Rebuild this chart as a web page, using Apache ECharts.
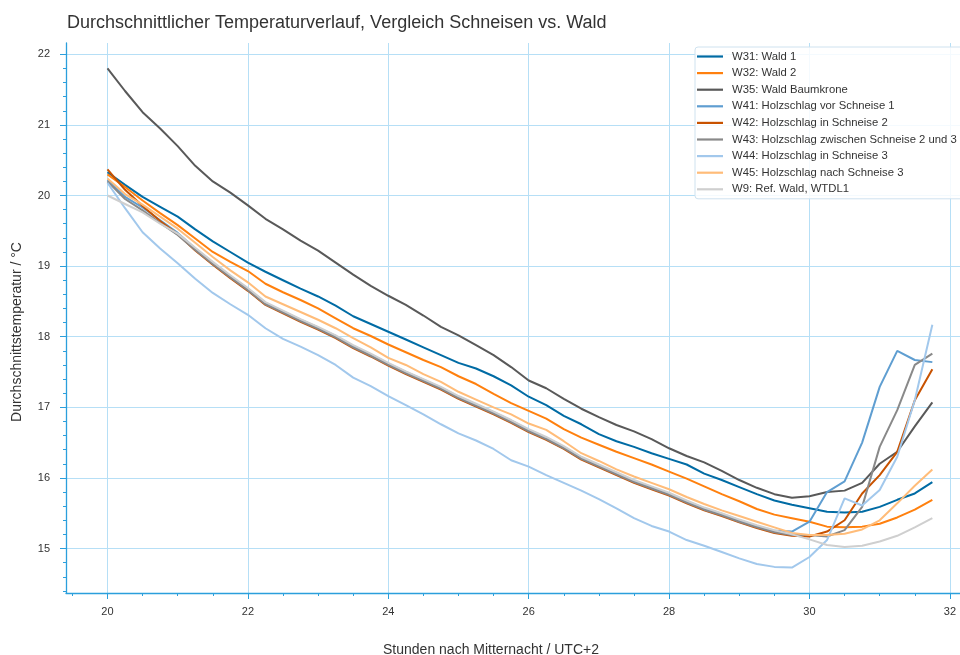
<!DOCTYPE html>
<html>
<head>
<meta charset="utf-8">
<script src="https://cdn.jsdelivr.net/npm/echarts@6/dist/echarts.min.js"></script>
<style>
html,body{margin:0;padding:0;background:#fff;}
#chart{width:960px;height:655px;}
</style>
</head>
<body>
<div id="chart"></div>
<script>
// ---- data ----
const hours = [20,20.25,20.5,20.75,21,21.25,21.5,21.75,22,22.25,22.5,22.75,23,23.25,23.5,23.75,24,24.25,24.5,24.75,25,25.25,25.5,25.75,26,26.25,26.5,26.75,27,27.25,27.5,27.75,28,28.25,28.5,28.75,29,29.25,29.5,29.75,30,30.25,30.5,30.75,31,31.25,31.5,31.75];

const seriesNames = ["W31: Wald 1","W32: Wald 2","W35: Wald Baumkrone","W41: Holzschlag vor Schneise 1","W42: Holzschlag in Schneise 2","W43: Holzschlag zwischen Schneise 2 und 3","W44: Holzschlag in Schneise 3","W45: Holzschlag nach Schneise 3","W9: Ref. Wald, WTDL1"];

const w31 = [20.33,20.15,19.98,19.84,19.70,19.52,19.35,19.20,19.05,18.92,18.80,18.68,18.57,18.44,18.29,18.18,18.07,17.96,17.85,17.74,17.63,17.55,17.44,17.31,17.15,17.03,16.88,16.76,16.62,16.52,16.44,16.35,16.27,16.19,16.06,15.97,15.87,15.77,15.68,15.62,15.57,15.52,15.51,15.52,15.59,15.69,15.78,15.94];
const w32 = [20.30,20.12,19.93,19.75,19.58,19.39,19.20,19.06,18.93,18.75,18.63,18.52,18.40,18.26,18.12,18.01,17.89,17.78,17.67,17.57,17.44,17.33,17.19,17.06,16.95,16.84,16.69,16.57,16.47,16.37,16.28,16.19,16.09,15.99,15.88,15.77,15.67,15.56,15.48,15.43,15.38,15.31,15.30,15.31,15.35,15.44,15.55,15.69];
const w35 = [21.80,21.48,21.18,20.95,20.70,20.42,20.20,20.04,19.86,19.67,19.52,19.36,19.22,19.05,18.88,18.72,18.58,18.45,18.30,18.14,18.02,17.88,17.74,17.57,17.38,17.27,17.12,16.98,16.86,16.75,16.66,16.55,16.42,16.31,16.22,16.10,15.97,15.86,15.77,15.72,15.74,15.80,15.82,15.93,16.20,16.37,16.73,17.07];
const w41 = [20.22,19.98,19.83,19.65,19.47,19.25,19.05,18.86,18.68,18.48,18.36,18.24,18.13,18.01,17.87,17.75,17.62,17.50,17.39,17.28,17.15,17.04,16.93,16.81,16.68,16.57,16.44,16.29,16.18,16.07,15.96,15.87,15.78,15.67,15.57,15.49,15.40,15.32,15.25,15.24,15.38,15.80,15.95,16.50,17.29,17.80,17.67,17.64];
const w42 = [20.37,20.08,19.85,19.64,19.45,19.22,19.02,18.83,18.65,18.45,18.33,18.21,18.10,17.98,17.84,17.72,17.59,17.47,17.36,17.25,17.12,17.01,16.90,16.78,16.65,16.54,16.41,16.26,16.15,16.04,15.93,15.84,15.75,15.64,15.54,15.46,15.37,15.29,15.22,15.18,15.17,15.24,15.40,15.78,16.04,16.37,17.10,17.54];
const w43 = [20.20,19.95,19.79,19.61,19.44,19.23,19.03,18.84,18.66,18.46,18.34,18.22,18.11,17.99,17.85,17.73,17.60,17.48,17.37,17.26,17.13,17.02,16.91,16.79,16.66,16.55,16.42,16.27,16.16,16.05,15.94,15.85,15.76,15.65,15.55,15.47,15.38,15.30,15.23,15.19,15.19,15.17,15.26,15.59,16.44,16.96,17.60,17.76];
const w44 = [20.18,19.82,19.48,19.25,19.04,18.82,18.62,18.46,18.31,18.12,17.97,17.86,17.74,17.60,17.42,17.30,17.16,17.03,16.90,16.76,16.63,16.53,16.41,16.25,16.16,16.04,15.93,15.82,15.70,15.57,15.43,15.32,15.24,15.12,15.04,14.95,14.86,14.78,14.74,14.73,14.88,15.12,15.71,15.61,15.83,16.30,17.10,18.17];
const w45 = [20.24,20.02,19.87,19.70,19.53,19.33,19.13,18.94,18.77,18.57,18.46,18.35,18.24,18.12,17.98,17.85,17.70,17.60,17.47,17.36,17.22,17.11,17.00,16.90,16.77,16.68,16.52,16.35,16.24,16.12,16.02,15.93,15.84,15.73,15.63,15.54,15.46,15.38,15.30,15.22,15.19,15.19,15.21,15.27,15.40,15.64,15.89,16.12];
const w9  = [20.00,19.88,19.76,19.60,19.46,19.26,19.06,18.87,18.69,18.49,18.37,18.25,18.14,18.02,17.88,17.76,17.63,17.51,17.40,17.29,17.16,17.05,16.94,16.82,16.69,16.58,16.45,16.30,16.19,16.08,15.97,15.88,15.79,15.68,15.58,15.50,15.41,15.33,15.26,15.20,15.13,15.05,15.02,15.04,15.10,15.18,15.30,15.43];

const xTickLabels = [20,22,24,26,28,30,32];
const yTickLabels = [15,16,17,18,19,20,21,22];

const colors = ['#006BA4','#FF800E','#595959','#5F9ED1','#C85200','#898989','#A2C8EC','#FFBC79','#CFCFCF'];
const allValues = [w31,w32,w35,w41,w42,w43,w44,w45,w9];

// minor tick positions
const xMinor = []; for (let v = 19.5; v <= 32.0001; v += 0.5) xMinor.push(+v.toFixed(2));
const yMinor = []; for (let v = 14.4; v <= 22.0001; v += 0.2) yMinor.push(+v.toFixed(2));

const axisBlue = '#2b9fdc';
const gridBlue = '#b6dff6';
const X_MIN = 19.409, X_MAX = 32.144, Y_MIN = 14.37, Y_MAX = 22.16;
const FONT = 'Liberation Sans, Arial, sans-serif';

const chart = echarts.init(document.getElementById('chart'), null, {renderer:'canvas'});
chart.setOption({
  animation: false,
  backgroundColor: '#ffffff',
  title: {
    text: 'Durchschnittlicher Temperaturverlauf, Vergleich Schneisen vs. Wald',
    left: 62, top: 9,
    textStyle: {fontFamily: FONT, fontSize: 18, fontWeight: 'normal', color: '#333'}
  },
  legend: {
    orient: 'vertical', left: 695, top: 47,
    padding: [3, 12, 3, 2],
    itemGap: 3.6, itemWidth: 26, itemHeight: 2.2, icon: 'rect',
    backgroundColor: 'rgba(255,255,255,0.85)',
    borderColor: '#cfe2ef', borderWidth: 1, borderRadius: 3,
    textStyle: {fontFamily: FONT, fontSize: 11.3, color: '#333', lineHeight: 13, padding: [0,0,0,4]},
    data: seriesNames
  },
  grid: {left: 66, top: 43, right: 0, bottom: 62, containLabel: false, outerBoundsMode: 'none'},
  xAxis: [{
    type: 'value', min: X_MIN, max: X_MAX,
    name: 'Stunden nach Mitternacht / UTC+2', nameLocation: 'middle', nameGap: 50,
    nameTextStyle: {fontFamily: FONT, fontSize: 14, color: '#333', padding: [0, 44, 0, 0]},
    axisLine: {show: true, lineStyle: {color: axisBlue, width: 1.3}},
    axisTick: {show: true, length: 6, customValues: xTickLabels, lineStyle: {color: axisBlue}},
    axisLabel: {customValues: xTickLabels, margin: 13, fontFamily: FONT, fontSize: 11, color: '#333'},
    splitLine: {show: true, lineStyle: {color: gridBlue, width: 1}}
  },{
    type: 'value', min: X_MIN, max: X_MAX, position: 'bottom',
    axisLine: {show: false},
    axisTick: {show: true, length: 3, customValues: xMinor, lineStyle: {color: axisBlue}},
    axisLabel: {show: false},
    splitLine: {show: false}
  }],
  yAxis: [{
    type: 'value', min: Y_MIN, max: Y_MAX,
    name: 'Durchschnittstemperatur / °C', nameLocation: 'middle', nameGap: 42,
    nameTextStyle: {fontFamily: FONT, fontSize: 14, color: '#333', padding: [0, 28, 0, 0]},
    axisLine: {show: true, lineStyle: {color: axisBlue, width: 1.3}},
    axisTick: {show: true, length: 6, customValues: yTickLabels, lineStyle: {color: axisBlue}},
    axisLabel: {customValues: yTickLabels, margin: 16, fontFamily: FONT, fontSize: 11, color: '#333'},
    splitLine: {show: true, lineStyle: {color: gridBlue, width: 1}}
  },{
    type: 'value', min: Y_MIN, max: Y_MAX, position: 'left',
    axisLine: {show: false},
    axisTick: {show: true, length: 3, customValues: yMinor, lineStyle: {color: axisBlue}},
    axisLabel: {show: false},
    splitLine: {show: false}
  }],
  series: seriesNames.map((name, i) => ({
    name: name, type: 'line', xAxisIndex: 0, yAxisIndex: 0,
    showSymbol: false, symbol: 'none', smooth: false,
    lineStyle: {color: colors[i], width: 2},
    itemStyle: {color: colors[i]},
    data: hours.map((h, k) => [h, allValues[i][k]])
  }))
});
</script>
</body>
</html>
